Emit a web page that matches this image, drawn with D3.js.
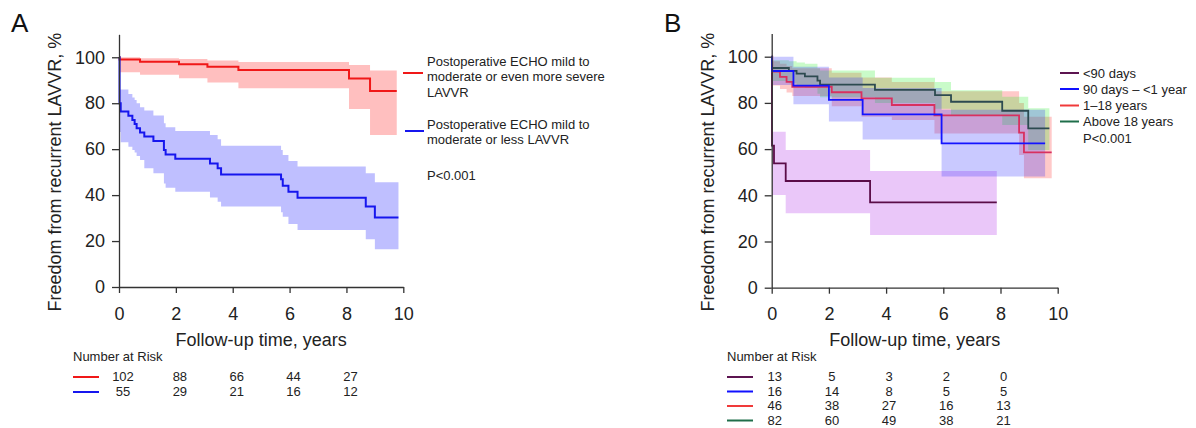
<!DOCTYPE html>
<html>
<head>
<meta charset="utf-8">
<script src="https://cdn.jsdelivr.net/npm/d3@7"></script>
<style>
    body { margin: 0; background: #fff; }
    svg { font-family: "Liberation Sans", Arial, Helvetica, sans-serif; }
</style>
</head>
<body>
<svg id="chart" width="1196" height="428"></svg>
<script>

// ---- data ----
const xTicks = [0, 2, 4, 6, 8, 10]
const yTicks = [0, 20, 40, 60, 80, 100]
const riskTimes = [0, 2, 4, 6, 8]

// panel A: severe residual LAVVR (red)
const aRedTime = [0, 0.02, 0.74, 2.11, 3.11, 4.2, 8.09, 8.83, 9.77]
const aRedSurv = [100, 99.0, 98.0, 97.0, 95.9, 94.5, 90.8, 85.3, 85.3]
const aRedHi   = [100, 100, 99.6, 99.2, 98.6, 97.9, 96.6, 94.2, 94.2]
const aRedLo   = [93.5, 93.5, 92.4, 90.9, 89.0, 86.5, 77.5, 66.2, 66.2]

// panel A: mild/less LAVVR (blue)
const aBlueTime = [0, 0.02, 0.06, 0.33, 0.47, 0.55, 0.62, 0.74, 0.89, 1.21, 1.58, 1.64, 1.98, 3.2, 3.47, 3.59, 5.70, 5.76, 5.96, 6.28, 8.68, 9.0, 9.83]
const aBlueSurv = [100, 80.0, 76.4, 74.5, 72.7, 70.9, 69.1, 67.3, 65.5, 63.6, 59.6, 57.7, 55.8, 53.8, 51.7, 49.0, 46.9, 44.1, 41.5, 38.9, 35.0, 30.3, 30.3]
const aBlueHi   = [86.0, 86.0, 86.0, 84.0, 82.5, 81.4, 80.0, 78.2, 76.8, 74.7, 71.3, 69.5, 67.9, 66.2, 64.3, 61.5, 59.6, 57.5, 54.9, 52.4, 49.5, 45.6, 45.6]
const aBlueLo   = [67.5, 67.5, 63.0, 61.0, 59.6, 58.5, 57.0, 55.3, 51.7, 49.5, 45.1, 43.2, 41.5, 39.0, 37.1, 35.0, 32.5, 30.6, 27.4, 24.8, 20.8, 16.4, 16.4]

const aRiskRed  = [102, 88, 66, 44, 27]
const aRiskBlue = [55, 29, 21, 16, 12]
const aLegendRed  = ["Postoperative ECHO mild to", "moderate or even more severe", "LAVVR"]
const aLegendBlue = ["Postoperative ECHO mild to", "moderate or less LAVVR"]

// panel B: age groups
const bLt90Time = [0, 0.01, 0.08, 0.49, 3.44, 7.87]
const bLt90Surv = [100, 61.5, 53.8, 46.2, 36.9, 36.9]
const bLt90Hi   = [100, 67.5, 67.5, 59.6, 50.5, 50.5]
const bLt90Lo   = [100, 40.1, 40.1, 32.2, 22.8, 22.8]

const bInfTime = [0, 0.01, 0.76, 2.0, 3.18, 5.94, 9.56]
const bInfSurv = [100, 93.8, 87.5, 81.3, 75.0, 62.5, 62.5]
const bInfHi   = [100, 100, 95.7, 91.0, 86.5, 77.0, 77.0]
const bInfLo   = [100, 87.8, 79.4, 71.9, 64.2, 48.1, 48.1]

const bChildTime = [0, 0.02, 0.29, 0.52, 0.72, 2.1, 3.14, 4.2, 5.69, 8.65, 8.82, 9.79]
const bChildSurv = [100, 93.5, 91.3, 89.1, 87.0, 84.6, 82.0, 79.1, 74.6, 67.1, 58.6, 58.6]
const bChildHi   = [100, 98, 97, 96, 95, 93, 91, 89, 85, 80, 74, 74]
const bChildLo   = [100, 87.5, 86, 84.5, 83, 78.5, 74, 72.6, 66.8, 57.5, 47.4, 47.4]

const bAdultTime = [0, 0.01, 0.6, 0.87, 1.16, 1.6, 1.69, 3.61, 5.71, 6.27, 8.06, 8.97, 9.71]
const bAdultSurv = [100, 95.1, 93.9, 92.7, 91.5, 89.6, 87.9, 85.6, 83.4, 80.5, 76.6, 69.0, 69.0]
const bAdultHi   = [100, 98.5, 98, 97.5, 97, 95, 94, 90.9, 89, 85.5, 82.7, 77.7, 77.7]
const bAdultLo   = [100, 89.5, 88.5, 87.5, 86.5, 84, 82.5, 80, 77.5, 74.5, 70.4, 59.6, 59.6]

const bLabels = ["<90 days", "90 days \u2013 <1 year", "1\u201318 years", "Above 18 years"]
const bRisk = [
    [13, 5, 3, 2, 0],
    [16, 14, 8, 5, 5],
    [46, 38, 27, 16, 13],
    [82, 60, 49, 38, 21]
]

// ---- drawing ----
const svg = d3.select("#chart")
const textColor = "#222"
const axisColor = "#333"

function series(time, surv, hi, lo) {
    return time.map((t, i) => ({ t, v: surv[i], hi: hi[i], lo: lo[i] }))
}

function drawPanel(opt) {
    const x = d3.scaleLinear().domain([0, 10]).range(opt.xRange)
    const y = d3.scaleLinear().domain([0, 110]).range(opt.yRange)
    const g = svg.append("g")

    const area = d3.area()
        .x(d => x(d.t)).y0(d => y(d.lo)).y1(d => y(d.hi))
        .curve(d3.curveStepAfter)
    const line = d3.line()
        .x(d => x(d.t)).y(d => y(d.v))
        .curve(d3.curveStepAfter)

    // bands first, then lines on top
    opt.series.forEach(s => {
        g.append("path").attr("d", area(s.data)).attr("fill", s.fill).attr("stroke", "none")
    })
    opt.series.forEach(s => {
        g.append("path").attr("d", line(s.data)).attr("fill", "none")
            .attr("stroke", s.line).attr("stroke-width", opt.lineWidth)
    })

    const xAxis = d3.axisBottom(x).tickValues(xTicks).tickSize(6).tickPadding(14).tickSizeOuter(0)
    const yAxis = d3.axisLeft(y).tickValues(yTicks).tickSize(7).tickPadding(7).tickSizeOuter(0)

    const gx = g.append("g").attr("transform", `translate(0,${y(0)})`).call(xAxis)
    const gy = g.append("g").attr("transform", `translate(${x(0)},0)`).call(yAxis)
    ;[gx, gy].forEach(a => {
        a.attr("font-family", null).attr("font-size", 18)
        a.selectAll("path, line").attr("stroke", axisColor).attr("stroke-width", 1.3)
        a.selectAll("text").attr("fill", textColor)
    })

    // panel letter
    g.append("text").attr("x", opt.letterX).attr("y", 32)
        .attr("font-size", 26).attr("fill", "#111").text(opt.letter)

    // axis titles
    g.append("text")
        .attr("transform", `translate(${opt.yTitleX},${y(50)}) rotate(-90)`)
        .attr("text-anchor", "middle").attr("dy", "0.35em")
        .attr("font-size", 18).attr("fill", textColor)
        .text("Freedom from recurrent LAVVR, %")
    g.append("text")
        .attr("x", (x(0) + x(10)) / 2).attr("y", 346)
        .attr("text-anchor", "middle")
        .attr("font-size", 18).attr("fill", textColor)
        .text("Follow-up time, years")

    // number at risk
    g.append("text").attr("x", opt.riskX).attr("y", 361)
        .attr("font-size", 13).attr("fill", textColor).text("Number at Risk")
    opt.risk.forEach((r, i) => {
        const ry = opt.riskY[i]
        g.append("line").attr("x1", opt.riskX).attr("x2", opt.riskX + 26)
            .attr("y1", ry).attr("y2", ry)
            .attr("stroke", opt.riskColors[i]).attr("stroke-width", 2)
        g.selectAll(null).data(r).enter().append("text")
            .attr("x", (d, k) => x(riskTimes[k]) + opt.riskShift)
            .attr("y", ry + 4)
            .attr("text-anchor", "middle")
            .attr("font-size", 13).attr("fill", textColor)
            .text(d => d)
    })
    return g
}

// panel A
const gA = drawPanel({
    letter: "A", letterX: 11,
    xRange: [119, 403.3], yRange: [287, 34.3],
    yTitleX: 55, lineWidth: 2,
    series: [
        { data: series(aRedTime, aRedSurv, aRedHi, aRedLo), fill: "rgba(255,0,0,0.25)", line: "#f01818" },
        { data: series(aBlueTime, aBlueSurv, aBlueHi, aBlueLo), fill: "rgba(0,0,255,0.25)", line: "#1616ee" }
    ],
    riskX: 73, riskY: [377, 392], riskShift: 4,
    risk: [aRiskRed, aRiskBlue], riskColors: ["#f01818", "#1616ee"]
})

gA.append("line").attr("x1", 403).attr("x2", 423).attr("y1", 73).attr("y2", 73)
    .attr("stroke", "#f01818").attr("stroke-width", 2)
gA.append("line").attr("x1", 405).attr("x2", 424).attr("y1", 131).attr("y2", 131)
    .attr("stroke", "#1616ee").attr("stroke-width", 2)
gA.selectAll(null).data(aLegendRed).enter().append("text")
    .attr("x", 427).attr("y", (d, i) => 66 + i * 15.3)
    .attr("font-size", 13).attr("fill", textColor).text(d => d)
gA.selectAll(null).data(aLegendBlue).enter().append("text")
    .attr("x", 427).attr("y", (d, i) => 129.3 + i * 15)
    .attr("font-size", 13).attr("fill", textColor).text(d => d)
gA.append("text").attr("x", 427).attr("y", 180)
    .attr("font-size", 13).attr("fill", textColor).text("P<0.001")

// panel B
const bLegendColors = ["#5c1450", "#1010ff", "#f03a3a", "#1f6e4a"]
const gB = drawPanel({
    letter: "B", letterX: 664,
    xRange: [771.7, 1057.7], yRange: [287.7, 33.6],
    yTitleX: 708, lineWidth: 1.8,
    series: [
        { data: series(bLt90Time, bLt90Surv, bLt90Hi, bLt90Lo), fill: "rgba(190,80,235,0.32)", line: "#5a0c48" },
        { data: series(bChildTime, bChildSurv, bChildHi, bChildLo), fill: "rgba(255,40,40,0.25)", line: "#d83060" },
        { data: series(bAdultTime, bAdultSurv, bAdultHi, bAdultLo), fill: "rgba(40,240,40,0.25)", line: "#2d4a50" },
        { data: series(bInfTime, bInfSurv, bInfHi, bInfLo), fill: "rgba(40,40,255,0.25)", line: "#1414ff" }
    ],
    riskX: 727, riskY: [377, 391.5, 406, 420.5], riskShift: 3,
    risk: bRisk, riskColors: bLegendColors
})

const legY = [73, 89, 105.5, 121.5]
bLabels.forEach((lab, i) => {
    gB.append("line").attr("x1", 1060).attr("x2", 1079).attr("y1", legY[i]).attr("y2", legY[i])
        .attr("stroke", bLegendColors[i]).attr("stroke-width", 2)
    gB.append("text").attr("x", 1083).attr("y", legY[i]).attr("dy", "0.35em")
        .attr("font-size", 13).attr("fill", textColor).text(lab)
})
gB.append("text").attr("x", 1083).attr("y", 138).attr("dy", "0.35em")
    .attr("font-size", 13).attr("fill", textColor).text("P<0.001")

</script>
</body>
</html>
